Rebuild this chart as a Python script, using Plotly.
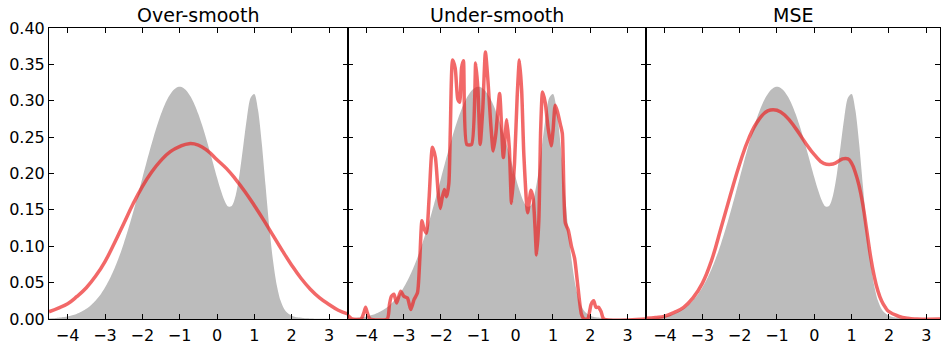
import plotly.graph_objects as go

# ---------------- data ----------------
titles = ["Over-smooth", "Under-smooth", "MSE"]

true_x = [-4.5, -4.4, -4.3, -4.2, -4.1, -4.0, -3.9, -3.8, -3.7, -3.6, -3.5, -3.4, -3.3, -3.2, -3.1,
          -3.0, -2.9, -2.8, -2.7, -2.6, -2.5, -2.4, -2.3, -2.2, -2.1, -2.0, -1.9, -1.8, -1.7, -1.6,
          -1.5, -1.4, -1.3, -1.2, -1.1, -1.0, -0.9, -0.8, -0.7, -0.6, -0.5, -0.4, -0.3, -0.2, -0.1,
          0.0, 0.1, 0.2, 0.3, 0.4, 0.5, 0.6, 0.7, 0.8, 0.9, 1.0, 1.1, 1.2, 1.3, 1.4,
          1.5, 1.6, 1.7, 1.8, 1.9, 2.0, 2.1, 2.2, 2.3, 2.4, 2.5, 2.6, 2.7, 2.8, 2.9,
          3.0, 3.1, 3.2, 3.3, 3.4, 3.5]
true_y = [0.0007, 0.0010, 0.0014, 0.0019, 0.0026, 0.0035, 0.0048, 0.0063, 0.0083, 0.0109, 0.0140,
          0.0179, 0.0226, 0.0284, 0.0352, 0.0432, 0.0525, 0.0632, 0.0752, 0.0887, 0.1036, 0.1198,
          0.1371, 0.1554, 0.1743, 0.1936, 0.2129, 0.2318, 0.2498, 0.2666, 0.2817, 0.2946, 0.3051,
          0.3128, 0.3176, 0.3191, 0.3176, 0.3128, 0.3051, 0.2946, 0.2817, 0.2666, 0.2498, 0.2319,
          0.2132, 0.1946, 0.1773, 0.1630, 0.1546, 0.1558, 0.1699, 0.1980, 0.2365, 0.2761, 0.3041,
          0.3092, 0.2868, 0.2413, 0.1839, 0.1272, 0.0803, 0.0469, 0.0258, 0.0139, 0.0078, 0.0045,
          0.0029, 0.0020, 0.0014, 0.0010, 0.0007, 0.0005, 0.0003, 0.0002, 0.0002, 0.0001, 0.0001,
          0.0001, 0.0000, 0.0000, 0.0000]

over_x = [-4.5, -4.25, -4.0, -3.75, -3.5, -3.25, -3.0, -2.75, -2.5, -2.25, -2.0, -1.75, -1.5,
          -1.25, -1.0, -0.75, -0.5, -0.25, 0.0, 0.25, 0.5, 0.75, 1.0, 1.25, 1.5, 1.75, 2.0,
          2.25, 2.5, 2.75, 3.0, 3.25, 3.5]
over_y = [0.010, 0.015, 0.021, 0.031, 0.043, 0.059, 0.079, 0.104, 0.131, 0.158, 0.182, 0.202, 0.218,
          0.230, 0.237, 0.241, 0.239, 0.231, 0.219, 0.207, 0.192, 0.175, 0.156, 0.136, 0.115, 0.094,
          0.074, 0.056, 0.041, 0.029, 0.020, 0.012, 0.007]

under_x = [-4.50, -4.38, -4.14, -4.07, -4.02, -3.97, -3.90, -3.44, -3.38, -3.33, -3.26, -3.19, -3.08,
           -2.99, -2.90, -2.81, -2.72, -2.63, -2.57, -2.51, -2.46, -2.39, -2.32, -2.23, -2.15, -2.07,
           -2.02, -1.97, -1.91, -1.85, -1.79, -1.75, -1.69, -1.62, -1.55, -1.50, -1.45, -1.40, -1.31,
           -1.18, -1.07, -1.01, -0.95, -0.88, -0.81, -0.74, -0.67, -0.60, -0.53, -0.43, -0.33, -0.24,
           -0.17, -0.11, -0.03, 0.04, 0.10, 0.16, 0.22, 0.32, 0.41, 0.47, 0.52, 0.56, 0.62, 0.67,
           0.72, 0.79, 0.87, 0.95, 1.00, 1.06, 1.12, 1.20, 1.25, 1.33, 1.41, 1.49, 1.58, 1.67, 1.76,
           1.83, 1.93, 2.02, 2.09, 2.15, 2.22, 2.29, 2.36, 3.50]
under_y = [0.005, 0.000, 0.000, 0.008, 0.016, 0.008, 0.000, 0.000, 0.020, 0.031, 0.034, 0.022, 0.038,
           0.031, 0.029, 0.013, 0.027, 0.036, 0.080, 0.135, 0.125, 0.118, 0.165, 0.236, 0.222, 0.170,
           0.152, 0.166, 0.178, 0.168, 0.186, 0.260, 0.356, 0.345, 0.302, 0.298, 0.345, 0.355, 0.240,
           0.240, 0.352, 0.315, 0.240, 0.290, 0.367, 0.326, 0.270, 0.231, 0.255, 0.310, 0.222, 0.274,
           0.235, 0.159, 0.215, 0.305, 0.356, 0.315, 0.225, 0.146, 0.177, 0.165, 0.125, 0.088, 0.135,
           0.260, 0.312, 0.298, 0.262, 0.238, 0.258, 0.294, 0.285, 0.267, 0.255, 0.132, 0.122, 0.101,
           0.083, 0.043, 0.007, 0.000, 0.000, 0.020, 0.025, 0.016, 0.016, 0.010, 0.000, 0.000]

mse_x = [-4.5, -4.25, -4.0, -3.75, -3.5, -3.25, -3.0, -2.75, -2.5, -2.25, -2.0, -1.75, -1.5, -1.25,
         -1.0, -0.75, -0.5, -0.25, 0.0, 0.25, 0.5, 0.75, 0.9, 1.0, 1.1, 1.2, 1.3, 1.4, 1.5, 1.6,
         1.7, 1.8, 1.9, 2.0, 2.25, 2.5, 2.75, 3.5]
mse_y = [0.001, 0.002, 0.004, 0.009, 0.016, 0.029, 0.049, 0.081, 0.125, 0.170, 0.213, 0.249, 0.273,
         0.286, 0.287, 0.278, 0.262, 0.243, 0.226, 0.214, 0.213, 0.220, 0.220, 0.214, 0.201, 0.183,
         0.157, 0.123, 0.088, 0.060, 0.039, 0.025, 0.016, 0.010, 0.004, 0.001, 0.000, 0.000]

x_ticks = [-4, -3, -2, -1, 0, 1, 2, 3]
x_tick_text = ["\u22124", "\u22123", "\u22122", "\u22121", "0", "1", "2", "3"]
y_ticks = [0.00, 0.05, 0.10, 0.15, 0.20, 0.25, 0.30, 0.35, 0.40]
y_tick_text = ["0.00", "0.05", "0.10", "0.15", "0.20", "0.25", "0.30", "0.35", "0.40"]

# ---------------- styling ----------------
W, H = 941, 345
ML, MR, MT, MB = 49, 0, 28, 20
plot_w = W - ML - MR
panel_px = 299
d1 = panel_px / plot_w
d2 = 2 * panel_px / plot_w
domains = [[0, d1], [d1, d2], [d2, 1.0]]
x_ranges = [[-4.5, 3.5], [-4.5, 3.5], [-4.5, -4.5 + 8 * (plot_w - 2 * panel_px) / panel_px]]

GRAY = "rgb(188,188,188)"
RED = "rgba(236,32,32,0.68)"
FONT = "DejaVu Sans"

fig = go.Figure()
red_series = [(over_x, over_y), (under_x, under_y), (mse_x, mse_y)]
for i in range(3):
    xa = "x" if i == 0 else f"x{i+1}"
    ya = "y" if i == 0 else f"y{i+1}"
    fig.add_trace(go.Scatter(x=true_x, y=true_y, mode="lines", fill="tozeroy",
                             fillcolor=GRAY, line=dict(width=0, color=GRAY, shape="spline", smoothing=0.8),
                             xaxis=xa, yaxis=ya, showlegend=False, hoverinfo="skip"))
    rx, ry = red_series[i]
    fig.add_trace(go.Scatter(x=rx, y=ry, mode="lines",
                             line=dict(width=3.5, color=RED, shape="spline",
                                       smoothing=0.6 if i == 1 else 1.3),
                             xaxis=xa, yaxis=ya, showlegend=False))

axis_common = dict(showline=True, linecolor="black", linewidth=1, mirror="ticks",
                   ticks="inside", ticklen=5, tickcolor="black", tickwidth=1,
                   showgrid=False, zeroline=False,
                   tickfont=dict(family=FONT, size=16, color="black"))
layout = dict(width=W, height=H, margin=dict(l=ML, r=MR, t=MT, b=MB),
              paper_bgcolor="white", plot_bgcolor="white", showlegend=False)
for i in range(3):
    xk = "xaxis" if i == 0 else f"xaxis{i+1}"
    yk = "yaxis" if i == 0 else f"yaxis{i+1}"
    layout[xk] = dict(axis_common, domain=domains[i], range=x_ranges[i],
                      tickvals=x_ticks, ticktext=x_tick_text, ticklabelstandoff=2,
                      anchor="y" if i == 0 else f"y{i+1}", fixedrange=True)
    layout[yk] = dict(axis_common, domain=[0, 1], range=[0, 0.40],
                      tickvals=y_ticks, ticktext=y_tick_text,
                      showticklabels=(i == 0),
                      anchor="x" if i == 0 else f"x{i+1}", fixedrange=True)
fig.update_layout(**layout)

for i, t in enumerate(titles):
    xr = "x domain" if i == 0 else f"x{i+1} domain"
    fig.add_annotation(text=t, x=0.5, xref=xr, y=1.0, yref="paper", yanchor="bottom",
                       yshift=0, showarrow=False,
                       font=dict(family=FONT, size=19, color="black"))

fig.write_html("out.html")
